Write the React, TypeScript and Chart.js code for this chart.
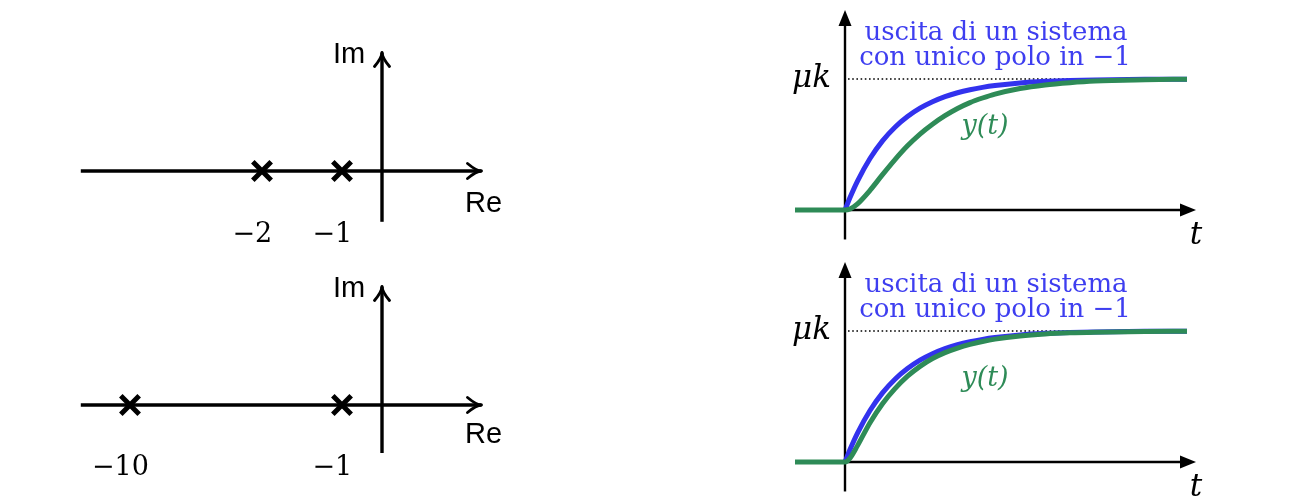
import React, { useEffect, useRef } from 'react';
import { Chart, registerables } from 'chart.js';

Chart.register(...registerables);

// ---- Pole maps (schematic real axis: drawn positions are not to scale) ----
const polesTopLabels = ['−2', '−1'];
const polesTopPos = [-3, -1];
const polesBottomLabels = ['−10', '−1'];
const polesBottomPos = [-6.3, -1];

// ---- Step responses ----
const tPre = [-1, 0];
const preValues = [0, 0];
const tRise = [0, 0.1, 0.25, 0.5, 0.75, 1, 1.25, 1.5, 1.75, 2, 2.25, 2.5, 2.75, 3, 3.5, 4, 4.5, 5, 6, 6.84];
const singlePoleOut = [0, 0.095, 0.221, 0.393, 0.528, 0.632, 0.713, 0.777, 0.826, 0.865, 0.895, 0.918, 0.936, 0.95, 0.97, 0.982, 0.989, 0.993, 0.998, 0.999];
const outPoles1and2 = [0, 0.008, 0.047, 0.15, 0.27, 0.385, 0.49, 0.58, 0.655, 0.72, 0.775, 0.82, 0.855, 0.885, 0.928, 0.955, 0.972, 0.984, 0.994, 0.999];
const outPoles1and10 = [0, 0.03, 0.125, 0.3, 0.445, 0.56, 0.655, 0.73, 0.79, 0.835, 0.87, 0.898, 0.92, 0.938, 0.962, 0.977, 0.986, 0.991, 0.997, 0.999];
const tLevel = [0.06, 6.84];
const levelValues = [1, 1];

const BLUE = 'rgb(50,50,238)';
const BLUE_TEXT = 'rgb(62,62,240)';
const GREEN = 'rgb(46,139,87)';

type Seg = { x1: number; y1: number; x2: number; y2: number; head: 'open' | 'filled'; width: number };
type Txt = { text: string; x: number; y: number; font: string; color: string };

function overlay(segs: Seg[], texts: Txt[]) {
  return {
    id: 'overlay',
    beforeDatasetsDraw(chart: any) {
      const { ctx } = chart;
      const sx = chart.scales.x;
      const sy = chart.scales.y;
      ctx.save();
      ctx.strokeStyle = '#000';
      ctx.fillStyle = '#000';
      for (const s of segs) {
        const x1 = sx.getPixelForValue(s.x1);
        const y1 = sy.getPixelForValue(s.y1);
        const x2 = sx.getPixelForValue(s.x2);
        const y2 = sy.getPixelForValue(s.y2);
        const a = Math.atan2(y2 - y1, x2 - x1);
        const c = Math.cos(a);
        const sn = Math.sin(a);
        ctx.lineWidth = s.width;
        ctx.lineCap = 'butt';
        if (s.head === 'filled') {
          const L = 16;
          const H = 6.5;
          const bx = x2 - L * c;
          const by = y2 - L * sn;
          ctx.beginPath();
          ctx.moveTo(x1, y1);
          ctx.lineTo(bx + 2 * c, by + 2 * sn);
          ctx.stroke();
          ctx.beginPath();
          ctx.moveTo(x2, y2);
          ctx.lineTo(bx - H * sn, by + H * c);
          ctx.lineTo(bx + H * sn, by - H * c);
          ctx.closePath();
          ctx.fill();
        } else {
          const tx = x2 - 1.5 * c;
          const ty = y2 - 1.5 * sn;
          const L = 14;
          const H = 7.5;
          const bx = tx - L * c;
          const by = ty - L * sn;
          ctx.beginPath();
          ctx.moveTo(x1, y1);
          ctx.lineTo(tx, ty);
          ctx.stroke();
          ctx.lineJoin = 'round';
          ctx.lineCap = 'round';
          ctx.lineWidth = s.width * 0.85;
          ctx.beginPath();
          ctx.moveTo(bx - H * sn, by + H * c);
          ctx.quadraticCurveTo(tx - 5 * c, ty - 5 * sn, tx, ty);
          ctx.quadraticCurveTo(tx - 5 * c, ty - 5 * sn, bx + H * sn, by - H * c);
          ctx.stroke();
        }
      }
      ctx.restore();
    },
    afterDraw(chart: any) {
      const { ctx } = chart;
      const sx = chart.scales.x;
      const sy = chart.scales.y;
      ctx.save();
      ctx.textAlign = 'center';
      ctx.textBaseline = 'alphabetic';
      for (const t of texts) {
        ctx.font = t.font;
        ctx.fillStyle = t.color;
        ctx.fillText(t.text, sx.getPixelForValue(t.x), sy.getPixelForValue(t.y));
      }
      ctx.restore();
    },
  };
}

type PanelCfg = {
  left: number;
  top: number;
  width: number;
  height: number;
  xr: [number, number];
  yr: [number, number];
  datasets: any[];
  segs: Seg[];
  texts: Txt[];
};

function Panel({ cfg }: { cfg: PanelCfg }) {
  const ref = useRef<HTMLCanvasElement | null>(null);
  useEffect(() => {
    if (!ref.current) return;
    const chart = new Chart(ref.current, {
      type: 'scatter',
      data: { datasets: cfg.datasets },
      options: {
        animation: false,
        responsive: false,
        devicePixelRatio: 1,
        layout: { padding: 0, autoPadding: false },
        events: [],
        plugins: { legend: { display: false }, tooltip: { enabled: false } },
        scales: {
          x: { type: 'linear', min: cfg.xr[0], max: cfg.xr[1], display: false },
          y: { type: 'linear', min: cfg.yr[0], max: cfg.yr[1], display: false },
        },
      },
      plugins: [overlay(cfg.segs, cfg.texts)],
    } as any);
    return () => chart.destroy();
  }, [cfg]);
  return (
    <canvas
      ref={ref}
      width={cfg.width}
      height={cfg.height}
      style={{ position: 'absolute', left: cfg.left, top: cfg.top, width: cfg.width, height: cfg.height, display: 'block' }}
    />
  );
}

const pts = (xs: number[], ys: number[]) => xs.map((x, i) => ({ x, y: ys[i] }));

const NUM_FONT = '27px "DejaVu Serif"';
const SANS_FONT = '29px "Liberation Sans"';

function poleCfg(top: number, labels: string[], pos: number[], imBottom: number, reLabelY: number, numY: number): PanelCfg {
  return {
    left: 62,
    top,
    width: 460,
    height: 220,
    xr: [-8, 3.5],
    yr: [-1.975, 3.525],
    datasets: [
      {
        data: pos.map((p) => ({ x: p, y: 0 })),
        pointStyle: 'crossRot',
        pointRadius: 13,
        pointBorderWidth: 5,
        pointBorderColor: '#000',
        pointBackgroundColor: '#000',
        showLine: false,
      },
    ],
    segs: [
      { x1: -7.53, y1: 0, x2: 2.525, y2: 0, head: 'open', width: 3.4 },
      { x1: 0, y1: imBottom, x2: 0, y2: 3.0, head: 'open', width: 3.4 },
    ],
    texts: [
      { text: 'Im', x: -0.825, y: 2.7, font: SANS_FONT, color: '#000' },
      { text: 'Re', x: 2.54, y: reLabelY, font: SANS_FONT, color: '#000' },
      ...labels.map((l, i) => ({ text: l, x: pos[i] - 0.24, y: numY, font: NUM_FONT, color: '#000' })),
    ],
  };
}

function stepCfg(top: number, green: number[]): PanelCfg {
  return {
    left: 780,
    top,
    width: 450,
    height: 250,
    xr: [-1.3, 7.7],
    yr: [-0.30535, 1.60305],
    datasets: [
      {
        data: pts([...tPre, ...tRise.slice(1)], [...preValues, ...green.slice(1)]),
        showLine: true,
        borderColor: GREEN,
        borderWidth: 5,
        pointRadius: 0,
        cubicInterpolationMode: 'monotone',
        order: 0,
      },
      {
        data: pts(tRise, singlePoleOut),
        showLine: true,
        borderColor: BLUE,
        borderWidth: 5,
        pointRadius: 0,
        cubicInterpolationMode: 'monotone',
        order: 1,
      },
      {
        data: pts(tLevel, levelValues),
        showLine: true,
        borderColor: '#000',
        borderWidth: 1.6,
        borderDash: [1.6, 2.6],
        pointRadius: 0,
        order: 2,
      },
    ],
    segs: [
      { x1: 0, y1: 0, x2: 7.02, y2: 0, head: 'filled', width: 2.4 },
      { x1: 0, y1: -0.225, x2: 0, y2: 1.527, head: 'filled', width: 2.4 },
    ],
    texts: [
      { text: 'uscita di un sistema', x: 3.02, y: 1.3, font: '26px "DejaVu Serif"', color: BLUE_TEXT },
      { text: 'con unico polo in −1', x: 3.0, y: 1.107, font: '26px "DejaVu Serif"', color: BLUE_TEXT },
      { text: 'μk', x: -0.67, y: 0.94, font: 'italic 31px "DejaVu Serif"', color: '#000' },
      { text: 't', x: 7.02, y: -0.26, font: 'italic 31px "DejaVu Serif"', color: '#000' },
      { text: 'y(t)', x: 2.8, y: 0.58, font: 'italic 27px "DejaVu Serif"', color: GREEN },
    ],
  };
}

const PANELS: PanelCfg[] = [
  poleCfg(30, polesTopLabels, polesTopPos, -1.27, -1.025, -1.775),
  poleCfg(264, polesBottomLabels, polesBottomPos, -1.2, -0.95, -1.75),
  stepCfg(0, outPoles1and2),
  stepCfg(252, outPoles1and10),
];

export default function App() {
  return (
    <div style={{ position: 'absolute', left: 0, top: 0, width: 1296, height: 504, background: '#fff', overflow: 'hidden' }}>
      {PANELS.map((p, i) => (
        <Panel key={i} cfg={p} />
      ))}
    </div>
  );
}
